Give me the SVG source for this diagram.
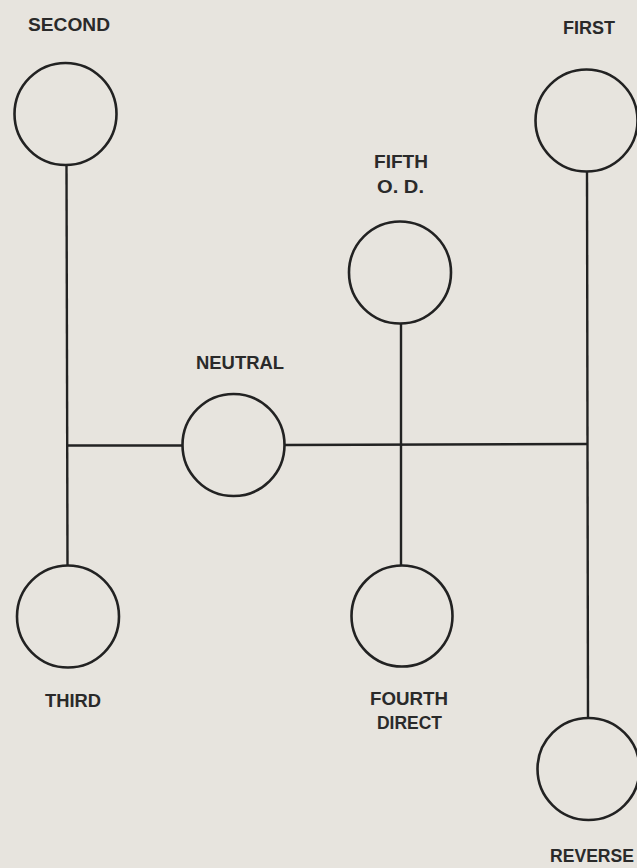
<svg xmlns="http://www.w3.org/2000/svg" width="637" height="868" viewBox="0 0 637 868">
  <style>
    .bg { fill: #e7e4de; }
    .pos { fill: none; stroke: #222; stroke-width: 2.6; }
    .rail { stroke: #222; stroke-width: 2.4; stroke-linecap: butt; fill: none; }
    .lbl { font-family: "Liberation Sans", Arial, sans-serif; font-weight: bold; font-size: 18px; fill: #2a2a2a; }
  </style>
  <rect class="bg" x="0" y="0" width="637" height="868"/>

  <!-- shift rails -->
  <g id="connectors">
    <line class="rail" x1="66.5" y1="165" x2="67.5" y2="566"/>
    <line class="rail" x1="66.5" y1="445.5" x2="183" y2="445.5"/>
    <line class="rail" x1="284" y1="445" x2="587" y2="444"/>
    <line class="rail" x1="401" y1="323" x2="401" y2="566"/>
    <line class="rail" x1="587" y1="171" x2="588" y2="718"/>
  </g>

  <g id="second">
    <text class="lbl" x="28" y="31" textLength="82" lengthAdjust="spacingAndGlyphs">SECOND</text>
    <circle class="pos" cx="65.5" cy="114" r="51"/>
  </g>
  <g id="first">
    <text class="lbl" x="563" y="34" textLength="52" lengthAdjust="spacingAndGlyphs">FIRST</text>
    <circle class="pos" cx="586.5" cy="120.5" r="51"/>
  </g>
  <g id="fifth">
    <text class="lbl" x="374" y="168" textLength="54" lengthAdjust="spacingAndGlyphs">FIFTH</text>
    <text class="lbl" x="377" y="193" textLength="47" lengthAdjust="spacingAndGlyphs">O. D.</text>
    <circle class="pos" cx="400" cy="272.5" r="51"/>
  </g>
  <g id="neutral">
    <text class="lbl" x="196" y="369" textLength="88" lengthAdjust="spacingAndGlyphs">NEUTRAL</text>
    <circle class="pos" cx="233.5" cy="445" r="51"/>
  </g>
  <g id="third">
    <circle class="pos" cx="68" cy="616.5" r="51"/>
    <text class="lbl" x="45" y="707" textLength="56" lengthAdjust="spacingAndGlyphs">THIRD</text>
  </g>
  <g id="fourth">
    <circle class="pos" cx="402" cy="616" r="50.5"/>
    <text class="lbl" x="370" y="705" textLength="78" lengthAdjust="spacingAndGlyphs">FOURTH</text>
    <text class="lbl" x="377" y="729" textLength="65" lengthAdjust="spacingAndGlyphs">DIRECT</text>
  </g>
  <g id="reverse">
    <circle class="pos" cx="588.5" cy="769" r="51"/>
    <text class="lbl" x="550" y="862" textLength="84" lengthAdjust="spacingAndGlyphs">REVERSE</text>
  </g>
</svg>
